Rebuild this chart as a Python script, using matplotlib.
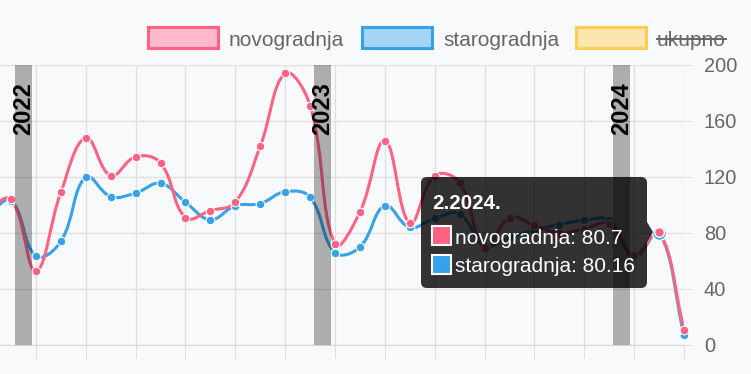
import numpy as np
import matplotlib
matplotlib.use('Agg')
import matplotlib.pyplot as plt
import matplotlib.transforms as mtrans
from matplotlib.path import Path
from matplotlib.patches import PathPatch, FancyBboxPatch, Rectangle, Polygon

plt.rcParams['font.family'] = ['Liberation Sans', 'DejaVu Sans']

# mjeseci 11.2021. - 3.2024. (prvi je izvan vidljivog dijela)
months = ['11.2021.', '12.2021.'] + ['%d.2022.' % m for m in range(1, 13)] \
    + ['%d.2023.' % m for m in range(1, 13)] + ['%d.2024.' % m for m in range(1, 4)]
novogradnja = [96, 104, 53, 109, 148, 121, 134.5, 130, 91, 96, 102, 142, 194, 171,
               72, 95, 146, 87, 121, 116, 69, 91, 85.5, 80, 83, 86.5, 64, 80.7, 11]
starogradnja = [92, 103, 63.5, 74, 120, 106, 108.5, 115.5, 102, 89.5, 99.5, 101, 109.5, 105.5,
                66, 70, 99.5, 84, 90.5, 93.5, 71, 77, 82, 86, 89, 89, 63, 80.16, 7]
years = ['2022', '2023', '2024']
y_ticks = [0, 40, 80, 120, 160, 200]
hover = '2.2024.'

PINK = '#FF6384'
BLUE = '#36A2EB'
YELLOW = '#FFCD56'
BG = '#F8F9FA'
GRID = '#E0E0E0'
TXT = '#666666'

x = np.arange(len(months)) - 1


def spline_path(xs, ys, t=0.4, sx=24.93, sy=1.4):
    # chart.js splineCurve (tension 0.4), udaljenosti u pikselima
    px = np.asarray(xs, float) * sx
    py = np.asarray(ys, float) * sy
    n = len(px)
    c1 = []
    c2 = []
    for i in range(n):
        a = max(i - 1, 0)
        b = min(i + 1, n - 1)
        d01 = np.hypot(px[i] - px[a], py[i] - py[a])
        d12 = np.hypot(px[b] - px[i], py[b] - py[i])
        s = d01 + d12
        s01 = d01 / s if s else 0
        s12 = d12 / s if s else 0
        c1.append((px[i] - t * s01 * (px[b] - px[a]), py[i] - t * s01 * (py[b] - py[a])))
        c2.append((px[i] + t * s12 * (px[b] - px[a]), py[i] + t * s12 * (py[b] - py[a])))
    verts = [(px[0], py[0])]
    codes = [Path.MOVETO]
    for i in range(1, n):
        verts += [c2[i - 1], c1[i], (px[i], py[i])]
        codes += [Path.CURVE4] * 3
    verts = [(vx / sx, vy / sy) for vx, vy in verts]
    return Path(verts, codes)


fig = plt.figure(figsize=(7.51, 3.74), dpi=100)
fig.patch.set_facecolor(BG)
ax = fig.add_axes([0, 29 / 374, 684 / 751, 280 / 374])
ax.set_facecolor(BG)
ax.set_xlim(-0.441, 27)
ax.set_ylim(0, 200)

# grid
ax.set_yticks(y_ticks)
ax.set_xticks(x[2::2])
ax.set_xticklabels(months[2::2])
ax.grid(True, color=GRID, lw=1.0)
ax.set_axisbelow(True)
for s in ['left', 'top', 'right']:
    ax.spines[s].set_visible(False)
ax.spines['bottom'].set_color('#D6D6D6')
ax.yaxis.tick_right()
ax.tick_params(axis='y', length=5.8, width=0.72, color=GRID, pad=8.5, labelsize=14.4, labelcolor=TXT)
ax.tick_params(axis='x', length=10, width=0.72, color=GRID, pad=17, labelsize=14.4, labelcolor=TXT)
for lb in ax.get_yticklabels():
    lb.set_horizontalalignment('left')
shift = mtrans.ScaledTranslation(0.12, 0, fig.dpi_scale_trans)
for lb in ax.get_xticklabels():
    lb.set_rotation(45)
    lb.set_rotation_mode('anchor')
    lb.set_horizontalalignment('right')
    lb.set_verticalalignment('center')
    lb.set_transform(lb.get_transform() + shift)

# linije
for vals, col in [(starogradnja, BLUE), (novogradnja, PINK)]:
    ax.add_patch(PathPatch(spline_path(x, vals), fill=False, edgecolor=col, lw=2.2,
                           capstyle='round', joinstyle='round', zorder=3))
    ax.plot(x[1:], vals[1:], 'o', ms=6.2, mfc=col, mec='white', mew=0.8, zorder=4, clip_on=False)

hi = months.index(hover)
ax.plot(x[hi], starogradnja[hi], 'o', ms=10, mfc=BLUE, mec='white', mew=1.0, zorder=5, clip_on=False)
ax.plot(x[hi], novogradnja[hi], 'o', ms=7, mfc=PINK, mec='white', mew=1.0, zorder=6, clip_on=False)

# oznake godina
for yr in years:
    xp = x[months.index('1.%s.' % yr)] - 0.5
    ax.axvspan(xp - 0.34, xp + 0.34, color='black', alpha=0.3, lw=0, zorder=7)
    ax.text(xp, 0.94, yr, rotation=90, ha='center', va='top', fontsize=17, fontweight='bold',
            color='black', transform=ax.get_xaxis_transform(), zorder=8)

# legenda i tooltip u pikselima
ov = fig.add_axes([0, 0, 1, 1], zorder=10)
ov.set_xlim(0, 751)
ov.set_ylim(374, 0)
ov.axis('off')

legend = [('novogradnja', PINK, '#FFB9C8', 148, 229),
          ('starogradnja', BLUE, '#A6D4F5', 362, 443),
          ('ukupno', YELLOW, '#FCE6B0', 576, 657)]
for name, ec, fc, bx, tx in legend:
    ov.add_patch(Rectangle((bx, 27), 70, 21, facecolor=fc, edgecolor=ec, lw=2.2))
    ov.text(tx, 38, name, fontsize=15, color=TXT, ha='left', va='center_baseline')
    if name == 'ukupno':
        ov.plot([tx, tx + 69], [38.5, 38.5], color=TXT, lw=1.4)

ov.add_patch(FancyBboxPatch((421, 177), 226, 111, boxstyle='round,pad=0,rounding_size=6',
                            facecolor='black', alpha=0.8, lw=0))
ov.add_patch(Polygon([(647, 222), (653, 232), (647, 242)], closed=True, facecolor='black',
                     alpha=0.8, lw=0))
ov.text(432, 201, hover, fontsize=14.8, fontweight='bold', color='white', va='center_baseline')
rows = [('novogradnja', novogradnja[hi], PINK, 236), ('starogradnja', starogradnja[hi], BLUE, 265)]
for name, v, col, yy in rows:
    ov.add_patch(Rectangle((432, yy - 10), 19, 19, facecolor=col, edgecolor='white', lw=1.5))
    ov.text(455, yy, '%s: %s' % (name, v), fontsize=15, color='white', va='center_baseline')

fig.savefig('out.png', dpi=100, facecolor=BG)
